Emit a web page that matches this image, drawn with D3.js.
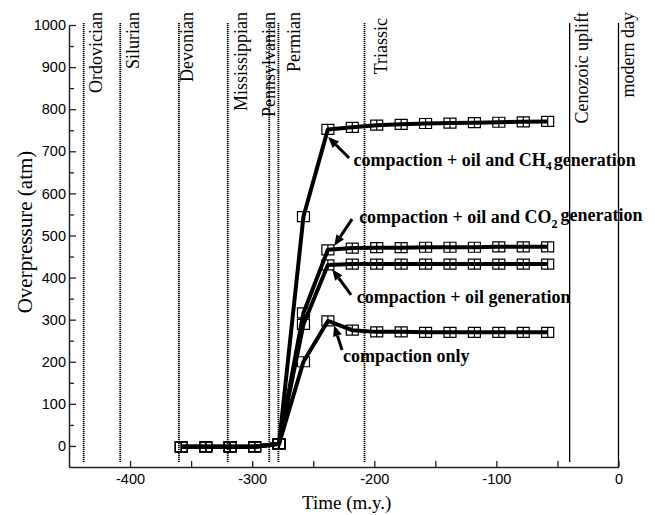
<!DOCTYPE html>
<html>
<head>
<meta charset="utf-8">
<script src="https://cdn.jsdelivr.net/npm/d3@7"></script>
<style>
  html, body { margin: 0; padding: 0; background: #fff; }
  svg { display: block; }
</style>
</head>
<body>
<svg id="chart" width="655" height="515"></svg>
<script>
// ---------- data ----------
const times = [-358, -338, -318, -298, -278, -258, -238, -218, -198, -178, -158, -138, -118, -98, -78, -58];
const ch4Series = [-2, -2, -2, -2, 5, 545, 752, 757, 762, 764, 766, 767, 768, 769, 770, 771];
const co2Series = [-2, -2, -2, -2, 5, 316, 466, 470, 471, 471, 472, 472, 472, 473, 473, 473];
const oilSeries = [-2, -2, -2, -2, 5, 289, 430, 432, 432, 432, 432, 432, 432, 432, 432, 432];
const compactionSeries = [-2, -2, -2, -2, 5, 200, 297, 275, 271, 271, 270, 270, 270, 270, 270, 270];

const periodNames = ["Ordovician", "Silurian", "Devonian", "Mississippian", "Pennsylvanian", "Permian", "Triassic", "Cenozoic uplift", "modern day"];
const periodTimes = [-438, -408, -360, -320, -286, -278.5, -208, -40, 0];
const periodSolid = [false, false, false, false, false, false, false, true, true];

const xTickLabels = [-400, -300, -200, -100, 0];
const xMinorTicks = [-350, -250, -150, -50];
const yTickLabels = [0, 100, 200, 300, 400, 500, 600, 700, 800, 900, 1000];
const yMinorTicks = [50, 150, 250, 350, 450, 550, 650, 750, 850, 950];

// annotation anchors in data units (time, atm)
const annoLabels = ["CH4", "CO2", "oil", "only"];
const annoTextT = [-217, -212.4, -214.4, -225.6];
const annoTextV = [666, 530, 340, 200];
const arrowFromT = [-220.6, -218.2, -219.0, -226.4];
const arrowFromV = [684, 539, 359, 228];
const arrowToT = [-237.8, -232.9, -234.5, -232.9];
const arrowToV = [734, 475, 420, 287];

// ---------- layout ----------
const svg = d3.select("#chart");
const x = d3.scaleLinear().domain([-450, 0]).range([69, 618.5]);
const y = d3.scaleLinear().domain([-50, 1000]).range([467, 25]);
const labelOffsets = [18.5, 18.5, 14, 19.5, 5.5, 21.7, 22, 18, 15];
const labelTopY = [12, 12, 12, 12, 12, 12, 18, 12, 12];

const serif = "'Liberation Serif', 'Times New Roman', serif";
const sans = "'Liberation Sans', Arial, sans-serif";

// period lines
const pg = svg.append("g");
periodTimes.forEach((t, i) => {
  pg.append("line")
    .attr("x1", x(t)).attr("x2", x(t))
    .attr("y1", 23).attr("y2", periodTimes[i] === 0 ? y(-50) : 462)
    .attr("stroke", "#000")
    .attr("stroke-width", periodSolid[i] ? 1.3 : 1.8)
    .attr("stroke-dasharray", periodSolid[i] ? null : "1.2,0.8");
  pg.append("text")
    .attr("transform", `translate(${x(t) + labelOffsets[i]},${labelTopY[i]}) rotate(-90)`)
    .attr("text-anchor", "end")
    .attr("font-family", serif)
    .attr("font-size", 18)
    .attr("fill", "#000")
    .text(periodNames[i]);
});

// series
const seriesList = [ch4Series, co2Series, oilSeries, compactionSeries];
const line = d3.line().x((d, i) => x(times[i])).y(d => y(d));
const lg = svg.append("g");
seriesList.forEach(s => {
  lg.append("path")
    .attr("d", line(s))
    .attr("fill", "none")
    .attr("stroke", "#000")
    .attr("stroke-width", 4)
    .attr("stroke-linejoin", "round");
});
const mg = svg.append("g");
seriesList.forEach(s => {
  mg.selectAll(null).data(s).enter().append("path")
    .attr("transform", (d, i) => `translate(${x(times[i])},${y(d)})`)
    .attr("d", "M-6,-5h12v10h-12z M0,-5v10")
    .attr("fill", "none")
    .attr("stroke", "#000")
    .attr("stroke-width", 1.2);
});

// annotations
const ag = svg.append("g")
  .attr("font-family", serif)
  .attr("font-weight", "bold")
  .attr("font-size", 18)
  .attr("fill", "#000");
annoLabels.forEach((k, i) => {
  const t = ag.append("text").attr("x", x(annoTextT[i])).attr("y", y(annoTextV[i]));
  if (k === "CH4") {
    t.append("tspan").text("compaction + oil and CH");
    t.append("tspan").attr("font-size", 12).attr("dy", 4).text("4");
    t.append("tspan").attr("dy", -4).attr("dx", 2).text("generation");
  } else if (k === "CO2") {
    t.append("tspan").text("compaction + oil and CO");
    t.append("tspan").attr("font-size", 12).attr("dy", 5).text("2");
    t.append("tspan").attr("dy", -7).attr("dx", 3).text("generation");
  } else if (k === "oil") {
    t.text("compaction + oil generation");
  } else {
    t.text("compaction only");
  }
  const x1 = x(arrowFromT[i]), y1 = y(arrowFromV[i]);
  const x2 = x(arrowToT[i]), y2 = y(arrowToV[i]);
  const ang = Math.atan2(y2 - y1, x2 - x1);
  const hl = 11, hw = 4.5;
  const bx = x2 - hl * Math.cos(ang), by = y2 - hl * Math.sin(ang);
  ag.append("line")
    .attr("x1", x1).attr("y1", y1).attr("x2", bx).attr("y2", by)
    .attr("stroke", "#000").attr("stroke-width", 3);
  const px = -Math.sin(ang), py = Math.cos(ang);
  ag.append("path")
    .attr("d", `M${x2},${y2}L${bx + px * hw},${by + py * hw}L${bx - px * hw},${by - py * hw}Z`)
    .attr("fill", "#000");
});

// axes
const axisColor = "#222";
const fmt = d => String(d);
function styleAxis(g) {
  g.selectAll("path.domain").attr("stroke", axisColor).attr("stroke-width", 1.5);
  g.selectAll(".tick line").attr("stroke", axisColor).attr("stroke-width", 1.3);
  g.selectAll(".tick text").attr("font-family", sans).attr("font-size", 14.5).attr("fill", "#000");
}
const xAxis = svg.append("g").attr("transform", `translate(0,${y(-50)})`)
  .call(d3.axisBottom(x).tickValues(xTickLabels).tickSize(-6).tickSizeOuter(0).tickPadding(7).tickFormat(fmt));
styleAxis(xAxis);
const xMinor = svg.append("g").attr("transform", `translate(0,${y(-50)})`)
  .call(d3.axisBottom(x).tickValues(xMinorTicks).tickSize(-6).tickFormat(""));
xMinor.select("path.domain").remove();
styleAxis(xMinor);

const yAxis = svg.append("g").attr("transform", `translate(${x(-450)},0)`)
  .call(d3.axisLeft(y).tickValues(yTickLabels).tickSize(-7).tickSizeOuter(0).tickPadding(3).tickFormat(fmt));
styleAxis(yAxis);
const yMinor = svg.append("g").attr("transform", `translate(${x(-450)},0)`)
  .call(d3.axisLeft(y).tickValues(yMinorTicks).tickSize(-5).tickFormat(""));
yMinor.select("path.domain").remove();
styleAxis(yMinor);

// axis titles
svg.append("text")
  .attr("x", (x(-450) + x(0)) / 2 + 3).attr("y", 509)
  .attr("text-anchor", "middle")
  .attr("font-family", serif).attr("font-size", 19)
  .text("Time (m.y.)");
svg.append("text")
  .attr("transform", `translate(32,232) rotate(-90)`)
  .attr("text-anchor", "middle")
  .attr("font-family", serif).attr("font-size", 21)
  .text("Overpressure (atm)");
</script>
</body>
</html>
